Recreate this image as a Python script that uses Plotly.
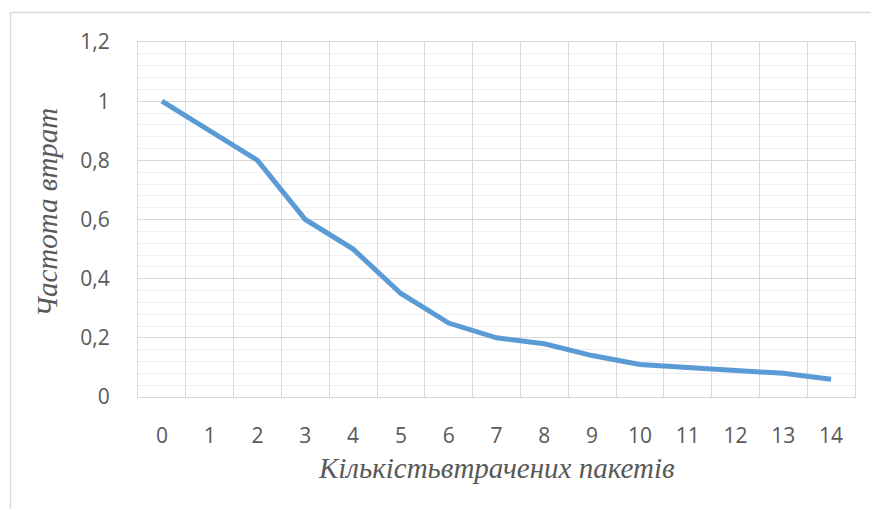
import plotly.graph_objects as go

# Lost-packet count vs. loss frequency
packets = [str(i) for i in range(15)]
loss_freq = [1.0, 0.9, 0.8, 0.6, 0.5, 0.35, 0.25, 0.2, 0.18, 0.14, 0.11, 0.10, 0.09, 0.08, 0.06]
y_ticks = [0, 0.2, 0.4, 0.6, 0.8, 1.0, 1.2]

x_title = "Кількістьвтрачених пакетів"
y_title = "Частота втрат"

W, H = 871, 509
L, R, T, B = 138, 16, 42, 112
pw, ph = W - L - R, H - T - B

def px_x(x):
    return (x - L) / pw

def px_y(y):
    return (H - B - y) / ph

fig = go.Figure()
fig.add_trace(go.Scatter(
    x=packets, y=loss_freq, mode="lines",
    line=dict(color="#5b9bd5", width=5),
    hoverinfo="skip",
))

tick_font = dict(family="Open Sans, Liberation Sans, sans-serif", size=21, color="#595959")
title_font = dict(family="Liberation Serif, DejaVu Serif, serif", size=29, color="#595959")

fig.update_layout(
    width=W, height=H,
    margin=dict(l=L, r=R, t=T, b=B, pad=0),
    paper_bgcolor="white", plot_bgcolor="white",
    separators=", ",
    showlegend=False,
    xaxis=dict(
        type="category", tickson="boundaries", ticks="",
        showgrid=True, gridcolor="#d9d9d9", gridwidth=1,
        showline=True, linecolor="#d9d9d9", linewidth=1, mirror=True,
        tickfont=tick_font, ticklabelstandoff=20,
        range=[-0.5, 14.5], zeroline=False,
    ),
    yaxis=dict(
        range=[0, 1.2], tickvals=y_ticks,
        showgrid=True, gridcolor="#d9d9d9", gridwidth=1,
        minor=dict(dtick=0.04, tick0=0, showgrid=True, gridcolor="#efefef", gridwidth=1),
        showline=True, linecolor="#d9d9d9", linewidth=1, mirror=True,
        tickfont=tick_font, ticklabelstandoff=23, zeroline=False,
    ),
    shapes=[dict(
        type="rect", xref="paper", yref="paper",
        x0=px_x(10.5), x1=px_x(W + 5), y0=px_y(12.5), y1=px_y(H + 5),
        line=dict(color="#d9d9d9", width=1.5), fillcolor="rgba(0,0,0,0)", layer="below",
    )],
    annotations=[
        dict(text=f"<i>{x_title}</i>", xref="paper", yref="paper",
             x=px_x(496), y=px_y(468), showarrow=False, font=title_font,
             xanchor="center", yanchor="middle"),
        dict(text=f"<i>{y_title}</i>", xref="paper", yref="paper",
             x=px_x(47), y=px_y(213), showarrow=False, font=title_font,
             textangle=-90, xanchor="center", yanchor="middle"),
    ],
)

fig.write_html("out.html")
